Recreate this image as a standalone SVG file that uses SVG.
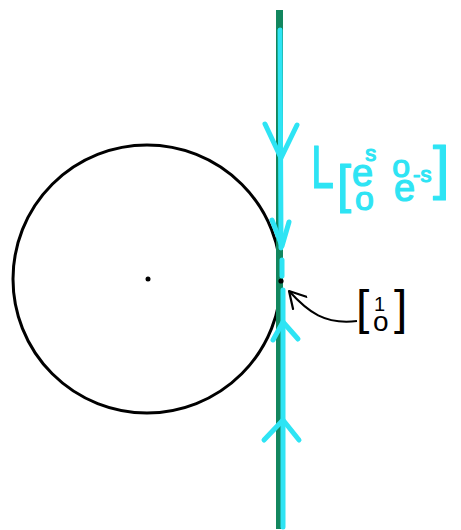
<svg xmlns="http://www.w3.org/2000/svg" width="461" height="530" viewBox="0 0 461 530">
<style>
.cy{fill:none;stroke:#2ee4f4;stroke-width:5;stroke-linecap:round;stroke-linejoin:round}
.ct{font-family:"Liberation Sans",sans-serif;fill:#2ee4f4;stroke:#2ee4f4;stroke-width:1.2;stroke-linejoin:round}
.bt{font-family:"Liberation Sans",sans-serif;fill:#000}
</style>
<defs>
<marker id="ah" viewBox="0 0 10 10" refX="9" refY="5" markerWidth="10" markerHeight="10" orient="auto">
<path d="M1,0.5 L9,5 L1,9.5" fill="none" stroke="#000" stroke-width="1.1" stroke-linecap="round" stroke-linejoin="round"/>
</marker>
</defs>
<rect width="461" height="530" fill="#fff"/>
<g id="circle">
<circle cx="147" cy="279" r="134" fill="none" stroke="#000" stroke-width="3"/>
<circle cx="148" cy="279" r="2.5" fill="#000"/>
</g>
<g id="line">
<rect x="276" y="10" width="7" height="519" fill="#12865e"/>
<circle cx="281" cy="281" r="2.6" fill="#000"/>
</g>
<g id="connectors">
<path class="cy" d="M280,30 L281,248 M282,260 L282,276 M283,290 L283,527"/>
<path class="cy" d="M265,124 L281,158 L297,125"/>
<path class="cy" d="M272,220 L282,246 L289,222"/>
<path class="cy" d="M273,340 L283,322 L298,339"/>
<path class="cy" d="M264,440 L283,420 L299,440"/>
<path d="M357,321 C325,325 308,312 289,291" fill="none" stroke="#000" stroke-width="2" marker-end="url(#ah)"/>
</g>
<g id="matrix">
<text class="ct" x="311" y="188" font-size="62" textLength="23" lengthAdjust="spacingAndGlyphs">L</text>
<text class="ct" x="337" y="202" font-size="51">[</text>
<text class="ct" x="352" y="186" font-size="38">e<tspan font-size="22" dx="-8" dy="-25">s</tspan><tspan font-size="32" dx="16" dy="16">o</tspan></text>
<text class="ct" x="355" y="210" font-size="34">o<tspan font-size="38" dx="20" dy="-9">e</tspan><tspan font-size="22" dx="-2" dy="-19">-s</tspan></text>
<text class="ct" x="433" y="188" font-size="60">]</text>
</g>
<g id="label">
<text class="bt" x="356" y="324" font-size="48">[</text>
<text class="bt" x="394" y="324" font-size="48">]</text>
<text class="bt" x="374" y="311" font-size="20">1<tspan x="373" dy="20" font-size="28">o</tspan></text>
</g>
</svg>
